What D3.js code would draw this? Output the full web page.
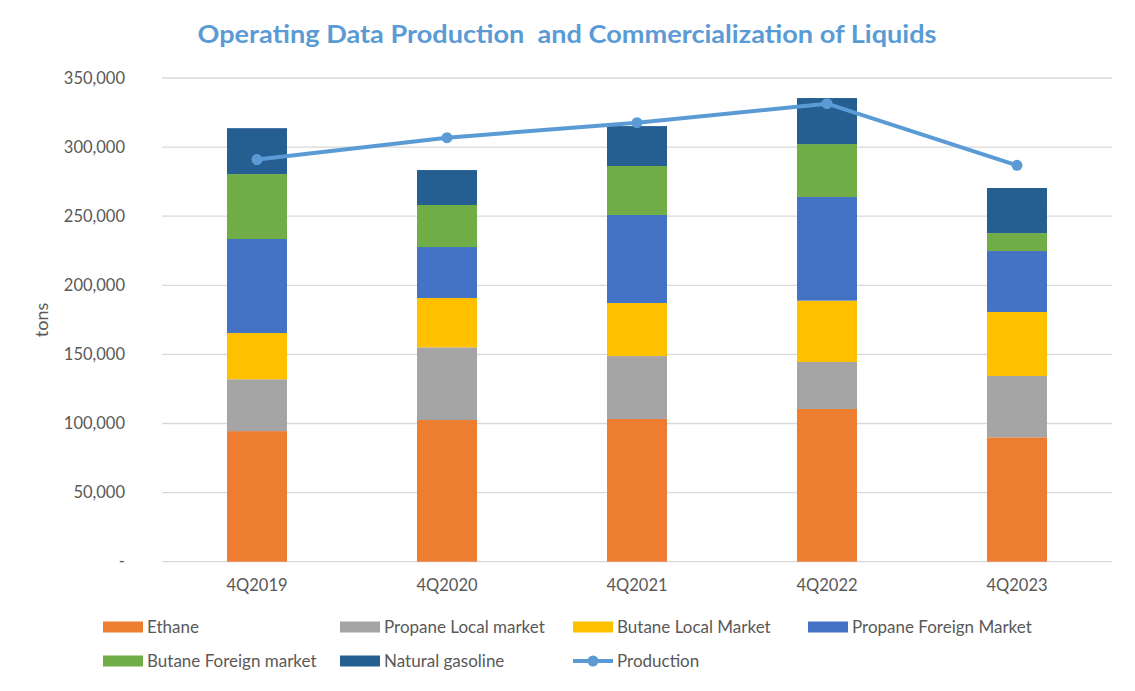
<!DOCTYPE html>
<html><head><meta charset="utf-8">
<script src="https://cdn.jsdelivr.net/npm/d3@7"></script>
<style>body{margin:0;background:#fff}svg{display:block}</style>
</head><body>
<svg id="chart" width="1135" height="691"></svg>
<script>
const categories = ["4Q2019","4Q2020","4Q2021","4Q2022","4Q2023"];
const seriesNames = ["Ethane","Propane Local market","Butane Local Market","Propane Foreign Market","Butane Foreign market","Natural gasoline"];
const ethane          = [94500, 102500, 103300, 110500, 90000];
const propaneLocal    = [37500,  52600,  45500,  34000, 44400];
const butaneLocal     = [33500,  35700,  38400,  44400, 46300];
const propaneForeign  = [68000,  36900,  63700,  75000, 44100];
const butaneForeign   = [47000,  30400,  35400,  38300, 13000];
const naturalGasoline = [33200,  25300,  28900,  33300, 32600];
const production      = [291000, 306800, 317700, 331400, 286800];
const yTicks = [0, 50000, 100000, 150000, 200000, 250000, 300000, 350000];
const colors = ["#ed7d31","#a5a5a5","#ffc000","#4472c4","#70ad47","#255e91"];
const lineColor = "#5b9bd5";

const seriesValues = [ethane, propaneLocal, butaneLocal, propaneForeign, butaneForeign, naturalGasoline];
const rows = categories.map((c,i)=>{const r={cat:c}; seriesNames.forEach((s,j)=>r[s]=seriesValues[j][i]); return r;});

const svg = d3.select("#chart");
const font = "Lato, 'Open Sans', sans-serif";
const plotLeft = 162, plotRight = 1112, plotTop = 78, plotBottom = 561.7;

const x = d3.scaleBand().domain(categories).range([plotLeft, plotRight]).padding(0);
const y = d3.scaleLinear().domain([0, 350000]).range([plotBottom, plotTop]);
const barW = 60;

// gridlines
svg.append("g").selectAll("line").data(yTicks).join("line")
  .attr("x1", plotLeft).attr("x2", plotRight)
  .attr("y1", d=>y(d)).attr("y2", d=>y(d))
  .attr("stroke", "#d9d9d9").attr("stroke-width", 1.3);

// y axis labels
const yAxis = d3.axisLeft(y).tickValues(yTicks).tickSize(0).tickPadding(0)
  .tickFormat(d => d === 0 ? "-" : d3.format(",")(d));
const gy = svg.append("g").attr("transform", `translate(${125},0)`).call(yAxis);
gy.select(".domain").remove();
gy.selectAll("text").attr("fill", "#595959").style("font-family", font).style("font-size", "16.5px");

// stacked bars
const stack = d3.stack().keys(seriesNames)(rows);
svg.append("g").selectAll("g").data(stack).join("g")
  .attr("fill", (d,i)=>colors[i])
  .selectAll("rect").data(d=>d).join("rect")
  .attr("x", d => x(d.data.cat) + x.bandwidth()/2 - barW/2)
  .attr("width", barW)
  .attr("y", d => y(d[1]))
  .attr("height", d => y(d[0]) - y(d[1]));

// x axis labels
const xAxis = d3.axisBottom(x).tickSize(0).tickPadding(0);
const gx = svg.append("g").attr("transform", `translate(0,${579})`).call(xAxis);
gx.select(".domain").remove();
gx.selectAll("text").attr("fill", "#595959").style("font-family", font).style("font-size", "16.5px");

// production line
const line = d3.line().x((d,i)=>x(categories[i]) + x.bandwidth()/2).y(d=>y(d));
svg.append("path").datum(production).attr("d", line)
  .attr("fill","none").attr("stroke", lineColor).attr("stroke-width", 4).attr("stroke-linejoin","round");
svg.append("g").selectAll("circle").data(production).join("circle")
  .attr("cx", (d,i)=>x(categories[i]) + x.bandwidth()/2).attr("cy", d=>y(d))
  .attr("r", 5.5).attr("fill", lineColor);

// title
svg.append("text").attr("x", 567).attr("y", 43).attr("text-anchor","middle")
  .attr("fill", lineColor).style("font-family", font).style("font-weight","bold").style("font-size","24px")
  .attr("textLength", 739).attr("lengthAdjust","spacingAndGlyphs")
  .style("white-space","pre")
  .text("Operating Data Production  and Commercialization of Liquids");

// y title
svg.append("text").attr("transform", "translate(48,320) rotate(-90)").attr("text-anchor","middle")
  .attr("fill","#595959").style("font-family", font).style("font-size","18px").text("tons");

// legend
const legendItems = seriesNames.map((n,i)=>({name:n, color:colors[i], type:"rect"}))
  .concat([{name:"Production", color:lineColor, type:"line"}]);
const legendPos = [[103,627],[340,627],[573,627],[808,627],[103,661],[340,661],[573,661]];
const lg = svg.append("g").selectAll("g").data(legendItems).join("g")
  .attr("transform", (d,i)=>`translate(${legendPos[i][0]},${legendPos[i][1]})`);
lg.filter(d=>d.type==="rect").append("rect").attr("x",0).attr("y",-5.5).attr("width",40).attr("height",11).attr("fill",d=>d.color);
lg.filter(d=>d.type==="line").append("line").attr("x1",0).attr("x2",40).attr("y1",0).attr("y2",0)
  .attr("stroke",d=>d.color).attr("stroke-width",4);
lg.filter(d=>d.type==="line").append("circle").attr("cx",20).attr("cy",0).attr("r",5.5).attr("fill",d=>d.color);
lg.append("text").attr("x",44).attr("y",0).attr("dy","0.35em")
  .attr("fill","#595959").style("font-family", font).style("font-size","17px").text(d=>d.name);
</script>
</body></html>
